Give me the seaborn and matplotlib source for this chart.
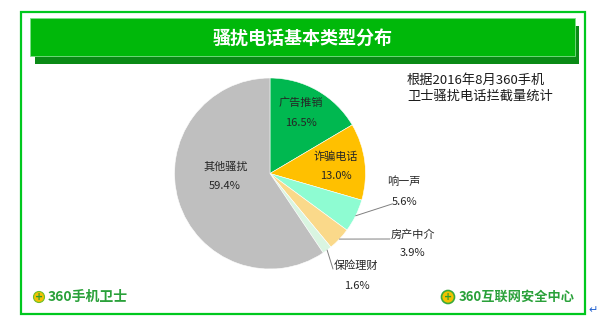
import numpy as np
import matplotlib
matplotlib.use("Agg")
import matplotlib.pyplot as plt
from matplotlib.patches import Rectangle, Circle
import seaborn as sns

# ---- data ----
categories = ["广告推销", "诈骗电话", "响一声", "房产中介", "保险理财", "其他骚扰"]
shares = [16.5, 13.0, 5.6, 3.9, 1.6, 59.4]
pct_labels = ["16.5%", "13.0%", "5.6%", "3.9%", "1.6%", "59.4%"]
title = "骚扰电话基本类型分布"
note_lines = ["根据2016年8月360手机", "卫士骚扰电话拦截量统计"]
footer_left = "360手机卫士"
footer_right = "360互联网安全中心"

# ---- style ----
sns.set_theme(style="white")
plt.rcParams['font.family'] = ['Noto Sans CJK SC', 'DejaVu Sans']
colors = sns.color_palette(["#00B850", "#FFC000", "#8EFCD2", "#FAD98A", "#D9F5E1", "#BFBFBF"])

W, H = 600, 322
fig = plt.figure(figsize=(6.0, 3.22), dpi=100)
ax = fig.add_axes([0, 0, 1, 1])
ax.set_xlim(0, W)
ax.set_ylim(H, 0)

# outer frame
ax.add_patch(Rectangle((20.5, 11.5), 564.5, 302.5, fill=False, edgecolor="#00C81E", lw=1.6, zorder=1))
# title bar with shadow
ax.add_patch(Rectangle((35, 26), 544, 37.5, facecolor="#0A8A16", edgecolor="none", zorder=2))
ax.add_patch(Rectangle((30, 18), 545, 38, facecolor="#00B80A", edgecolor="#7EE08A", lw=0.6, zorder=3))
ax.text(303, 38, title, color="white", fontsize=13, fontweight="bold",
        ha="center", va="center", zorder=4)

# pie
cx, cy, R = 270, 173.5, 95.5
wedges, _ = ax.pie(shares, colors=colors, startangle=-90, counterclock=True,
                   center=(cx, cy), radius=R, frame=True,
                   wedgeprops=dict(linewidth=0.4, edgecolor="white"))
ax.set_xlim(0, W)
ax.set_ylim(H, 0)
ax.set_aspect("equal")
ax.axis("off")

# labels: (name center, pct center) in pixel layout
label_pos = [((300.5, 103), (301, 123)),
             ((335.5, 157), (336, 176)),
             ((404, 182), (405, 202)),
             ((413, 235), (412.5, 253)),
             ((356, 266), (357, 286)),
             ((225.5, 167), (225, 186))]
tc = "#262626"
for name, pct, (p1, p2) in zip(categories, pct_labels, label_pos):
    ax.text(p1[0], p1[1], name, fontsize=8, color=tc, ha="center", va="center", zorder=6)
    ax.text(p2[0], p2[1], pct, fontsize=8, color=tc, ha="center", va="center", zorder=6)

# leader lines for small slices (start at wedge edge midpoint)
leader_end = {2: (392, 204), 3: (390, 239), 4: (333, 269)}
for i, end in leader_end.items():
    w = wedges[i]
    th = np.deg2rad((w.theta1 + w.theta2) / 2)
    sx, sy = cx + R * np.cos(th), cy + R * np.sin(th)
    ax.plot([sx, end[0]], [sy, end[1]], color="#808080", lw=0.7, zorder=5)

# note text
ax.text(407, 80, note_lines[0], fontsize=9.5, color="#1a1a1a", ha="left", va="center", zorder=6)
ax.text(407, 96, note_lines[1], fontsize=9.5, color="#1a1a1a", ha="left", va="center", zorder=6)

# footers
ax.add_patch(Circle((39, 297), 5.5, facecolor="#F2C200", edgecolor="#6BBF2A", lw=0.8, zorder=6))
ax.text(39, 297, "+", color="#2E9E2E", fontsize=7, fontweight="bold", ha="center", va="center",
        family=["DejaVu Sans"], zorder=7)
ax.text(48, 297, footer_left, color="#2AA13A", fontsize=10, fontweight="bold",
        ha="left", va="center", zorder=6)
ax.add_patch(Circle((448, 297), 6.5, facecolor="#F2C200", edgecolor="#3BAA3B", lw=1.2, zorder=6))
ax.text(448, 297, "+", color="#2E9E2E", fontsize=7, fontweight="bold", ha="center", va="center",
        family=["DejaVu Sans"], zorder=7)
ax.text(459, 297, footer_right, color="#2AA13A", fontsize=9.5, fontweight="bold",
        ha="left", va="center", zorder=6)
ax.text(593, 310, "↵", color="#2060D0", fontsize=8, ha="center", va="center",
        family=["DejaVu Sans"], zorder=6)

fig.savefig("out.png", dpi=100, facecolor="white")
